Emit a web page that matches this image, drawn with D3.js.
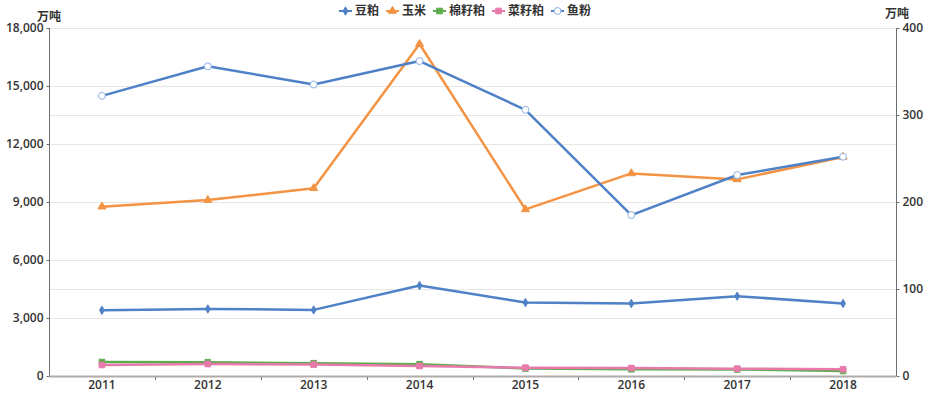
<!DOCTYPE html>
<html><head><meta charset="utf-8">
<script src="https://cdn.jsdelivr.net/npm/d3@7/dist/d3.min.js"></script>
<style>body{margin:0;background:#fff;}svg{display:block;font-family:"Open Sans","Noto Sans CJK SC",sans-serif;}</style>
</head><body><svg id="c" width="930" height="412"></svg>
<script>
const years = ["2011","2012","2013","2014","2015","2016","2017","2018"];
const soymeal = [3400, 3470, 3420, 4680, 3800, 3750, 4130, 3750];
const corn = [8760, 9100, 9710, 17170, 8620, 10480, 10170, 11330];
const cottonmeal = [720, 710, 660, 610, 390, 350, 340, 260];
const rapemeal = [570, 620, 590, 520, 430, 410, 380, 350];
const fishmeal = [322, 356, 335, 362, 306, 185, 231, 252];
const leftTicks = [0, 3000, 6000, 9000, 12000, 15000, 18000];
const rightTicks = [0, 100, 200, 300, 400];
const seriesNames = ["豆粕","玉米","棉籽粕","菜籽粕","鱼粉"];

const colors = ["#4f81c7","#f39343","#5cad4c","#e77aab","#4f81c7"];
const series = [
  {name:seriesNames[0], data:soymeal, axis:"L", color:colors[0], sym:"diamond"},
  {name:seriesNames[1], data:corn, axis:"L", color:colors[1], sym:"triangle"},
  {name:seriesNames[2], data:cottonmeal, axis:"L", color:colors[2], sym:"square"},
  {name:seriesNames[3], data:rapemeal, axis:"L", color:colors[3], sym:"square"},
  {name:seriesNames[4], data:fishmeal, axis:"R", color:colors[4], sym:"circle"}
];

const svg = d3.select("#c");
const L = 49, R = 896, T = 28, B = 376;
const x = d3.scaleBand().domain(years).range([L, R]);
const yL = d3.scaleLinear().domain([0, 18000]).range([B, T]);
const yR = d3.scaleLinear().domain([0, 400]).range([B, T]);
const fmt = d3.format(",");
const textCol = "#333";

// grid
const g = svg.append("g");
g.selectAll("line.gl").data(leftTicks.filter(d=>d>0)).join("line")
  .attr("x1", L).attr("x2", R).attr("y1", d=>Math.round(yL(d))+0.5).attr("y2", d=>Math.round(yL(d))+0.5)
  .attr("stroke", "#e6e6e6");
g.selectAll("line.gr").data(rightTicks.filter(d=>d>0)).join("line")
  .attr("x1", L).attr("x2", R).attr("y1", d=>Math.round(yR(d))+0.5).attr("y2", d=>Math.round(yR(d))+0.5)
  .attr("stroke", "#e6e6e6");

// left axis
const axL = svg.append("g").attr("transform", `translate(${L+0.5},0)`)
  .call(d3.axisLeft(yL).tickValues(leftTicks).tickFormat(fmt).tickSize(3).tickPadding(3));
// right axis
const axR = svg.append("g").attr("transform", `translate(${R+0.5},0)`)
  .call(d3.axisRight(yR).tickValues(rightTicks).tickSize(3).tickPadding(3));
[axL, axR].forEach(a => {
  a.select(".domain").attr("stroke", "#6e6e6e").attr("d", `M0,${T}V${B}`);
  a.selectAll(".tick line").attr("stroke", "#6e6e6e");
  a.selectAll("text").attr("fill", textCol).attr("font-size", 12).attr("font-weight", 600)
    .attr("font-family", '"Open Sans",sans-serif');
});

// bottom axis
const axB = svg.append("g").attr("transform", `translate(0,${B})`)
  .call(d3.axisBottom(x).tickSize(0).tickPadding(4));
axB.select(".domain").remove();
axB.selectAll("text").attr("fill", textCol).attr("font-size", 12).attr("font-weight", 600)
  .attr("font-family", '"Open Sans",sans-serif');
svg.append("line").attr("x1", L).attr("x2", R).attr("y1", B+0.5).attr("y2", B+0.5)
  .attr("stroke", "#b0aaa8").attr("stroke-width", 2);
svg.selectAll("line.bt").data(years.slice(1)).join("line")
  .attr("x1", d=>Math.round(x(d))+0.5).attr("x2", d=>Math.round(x(d))+0.5)
  .attr("y1", B+1).attr("y2", B+4).attr("stroke", "#777");

// units
svg.append("text").attr("x", 49).attr("y", 21).attr("text-anchor", "middle")
  .attr("font-size", 12).attr("font-weight", 700).attr("fill", textCol).text("万吨");
svg.append("text").attr("x", 897).attr("y", 18).attr("text-anchor", "middle")
  .attr("font-size", 12).attr("font-weight", 700).attr("fill", textCol).text("万吨");

function symPath(sym, size){
  const t = {diamond:d3.symbolDiamond, triangle:d3.symbolTriangle, square:d3.symbolSquare, circle:d3.symbolCircle}[sym];
  return d3.symbol().type(t).size(size)();
}
const symSize = {diamond:20, triangle:28, square:32, circle:38};

// lines
series.forEach(s => {
  const ys = s.axis === "L" ? yL : yR;
  const cx = d => x.bandwidth()/2 + x(d);
  const line = d3.line().x((d,i)=>cx(years[i])).y(d=>ys(d));
  const gg = svg.append("g");
  gg.append("path").datum(s.data).attr("d", line).attr("fill", "none")
    .attr("stroke", s.color).attr("stroke-width", 2.5).attr("stroke-linejoin", "round");
  gg.selectAll("path.m").data(s.data).join("path")
    .attr("transform", (d,i)=>`translate(${cx(years[i])},${ys(d)})`)
    .attr("d", symPath(s.sym, symSize[s.sym]))
    .attr("fill", s.sym === "circle" ? "#fff" : s.color)
    .attr("stroke", s.sym === "circle" ? "#8fb0e3" : s.color)
    .attr("stroke-width", 1)
    .attr("stroke-linejoin", "round");
});

// legend
const leg = svg.append("g");
let widths = [];
const tmp = svg.append("text").attr("font-size", 12).attr("font-weight", 700);
series.forEach(s => { tmp.text(s.name); widths.push(tmp.node().getComputedTextLength()); });
tmp.remove();
const iconW = 13, gap1 = 3, gap2 = 7;
const total = d3.sum(widths) + series.length*(iconW+gap1) + (series.length-1)*gap2;
let lx = 464 - total/2 + 1;
series.forEach((s,i) => {
  const cy = 11;
  leg.append("line").attr("x1", lx).attr("x2", lx+iconW).attr("y1", cy).attr("y2", cy)
    .attr("stroke", s.color).attr("stroke-width", 2);
  leg.append("path").attr("transform", `translate(${lx+iconW/2},${cy})`)
    .attr("d", symPath(s.sym, symSize[s.sym]))
    .attr("fill", s.sym === "circle" ? "#fff" : s.color)
    .attr("stroke", s.sym === "circle" ? "#8fb0e3" : s.color);
  leg.append("text").attr("x", lx+iconW+gap1).attr("y", cy+4).attr("font-size", 12)
    .attr("font-weight", 700).attr("fill", textCol).text(s.name);
  lx += iconW + gap1 + widths[i] + gap2;
});
</script></body></html>
